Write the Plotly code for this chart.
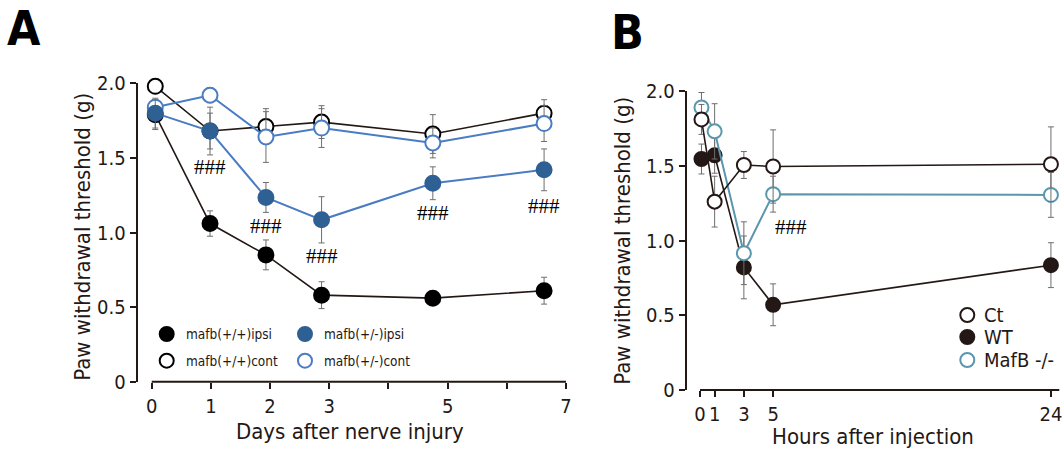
import plotly.graph_objects as go

# ---------------- data: panel A ----------------
days = [0.06, 0.985, 1.93, 2.87, 4.75, 6.63]
wt_ipsi = [1.79, 1.06, 0.85, 0.58, 0.56, 0.61]
wt_ipsi_err = [0.10, 0.085, 0.10, 0.09, 0.03, 0.09]
wt_cont = [1.98, 1.68, 1.71, 1.74, 1.66, 1.80]
wt_cont_err = [0.05, 0.16, 0.12, 0.11, 0.13, 0.09]
het_cont = [1.84, 1.92, 1.64, 1.70, 1.60, 1.73]
het_cont_err = [0.05, 0.05, 0.17, 0.13, 0.10, 0.12]
het_ipsi = [1.80, 1.68, 1.235, 1.085, 1.33, 1.42]
het_ipsi_err = [0.10, 0.12, 0.10, 0.155, 0.11, 0.14]
hash_days_a = [0.985, 1.93, 2.87, 4.75, 6.63]
hash_y_a = [1.44, 1.045, 0.842, 1.133, 1.178]
x_ticks_a = [0, 1, 2, 3, 4, 5, 6, 7]
x_ticktext_a = ["0", "1", "2", "3", "", "5", "", "7"]
legend_a_names = ["mafb(+/+)ipsi", "mafb(+/+)cont", "mafb(+/-)ipsi", "mafb(+/-)cont"]

# ---------------- data: panel B ----------------
hours = [0.1, 1, 3, 5, 24]
ct = [1.81, 1.26, 1.505, 1.495, 1.51]
ct_err = [0.10, 0.17, 0.09, 0.245, 0.25]
wt = [1.545, 1.57, 0.82, 0.57, 0.835]
wt_err = [0.10, 0.12, 0.21, 0.14, 0.15]
mafb = [1.89, 1.73, 0.915, 1.31, 1.305]
mafb_err = [0.10, 0.185, 0.21, 0.12, 0.15]
hash_hours_b = [6.2]
hash_y_b = [1.092]
x_ticks_b = [0, 1, 3, 5, 24]
legend_b_names = ["Ct", "WT", "MafB -/-"]

y_ticks = [0, 0.5, 1.0, 1.5, 2.0]
y_ticktext = ["0", "0.5", "1.0", "1.5", "2.0"]

# ---------------- style ----------------
W, H = 1064, 452
FONT = "Liberation Sans Narrow, Arial Narrow, DejaVu Sans Condensed, sans-serif"
INK = "#231815"
BLUE_LINE = "#4a7cc4"
BLUE_FILL = "#2f6093"
TEAL = "#5a96ac"
ERR = "#6e6e6e"


def px_x(p):
    return p / W


def px_y(p):
    return 1 - p / H


fig = go.Figure()


def add_series(x, y, err, xa, ya, line_color, fill, edge, size, lw, name):
    fig.add_trace(go.Scatter(
        x=x, y=y, xaxis=xa, yaxis=ya, mode="lines+markers", name=name,
        showlegend=False, cliponaxis=False,
        line=dict(color=line_color, width=lw),
        marker=dict(size=size, color=fill, line=dict(color=edge, width=2)),
        error_y=dict(type="data", array=err, color=ERR, thickness=1, width=3),
    ))


add_series(days, wt_ipsi, wt_ipsi_err, "x", "y", INK, "#000000", "#000000", 15, 1.6, legend_a_names[0])
add_series(days, wt_cont, wt_cont_err, "x", "y", INK, "#ffffff", "#000000", 15, 1.6, legend_a_names[1])
add_series(days, het_cont, het_cont_err, "x", "y", BLUE_LINE, "#ffffff", BLUE_LINE, 15, 2, legend_a_names[3])
add_series(days, het_ipsi, het_ipsi_err, "x", "y", BLUE_LINE, BLUE_FILL, BLUE_FILL, 15, 2, legend_a_names[2])

add_series(hours, wt, wt_err, "x2", "y2", INK, INK, INK, 14, 1.6, legend_b_names[1])
add_series(hours, mafb, mafb_err, "x2", "y2", TEAL, "#ffffff", TEAL, 14, 2, legend_b_names[2])
add_series(hours, ct, ct_err, "x2", "y2", INK, "#ffffff", INK, 14, 1.6, legend_b_names[0])

# ---- hand-placed legend keys (full-page axis in pixel units) ----
leg_a_x = [166.7, 166.7, 305, 305]
leg_a_y = [334, 360.7, 334, 360.7]
leg_a_fill = ["#000000", "#ffffff", BLUE_FILL, "#ffffff"]
leg_a_edge = ["#000000", "#000000", BLUE_FILL, BLUE_LINE]
fig.add_trace(go.Scatter(x=leg_a_x, y=leg_a_y, xaxis="x3", yaxis="y3", mode="markers", showlegend=False,
                         hoverinfo="skip", cliponaxis=False,
                         marker=dict(size=14, color=leg_a_fill, line=dict(color=leg_a_edge, width=2))))
leg_b_x = [967.3, 967.3, 967.3]
leg_b_y = [315, 337, 360]
leg_b_fill = ["#ffffff", INK, "#ffffff"]
leg_b_edge = [INK, INK, TEAL]
fig.add_trace(go.Scatter(x=leg_b_x, y=leg_b_y, xaxis="x3", yaxis="y3", mode="markers", showlegend=False,
                         hoverinfo="skip", cliponaxis=False,
                         marker=dict(size=14, color=leg_b_fill, line=dict(color=leg_b_edge, width=2))))

annotations = []
for xh, yh in zip(hash_days_a, hash_y_a):
    annotations.append(dict(x=xh, y=yh, xref="x", yref="y", text="###", showarrow=False,
                            font=dict(family="Liberation Serif, serif", size=21, color="#000")))
for xh, yh in zip(hash_hours_b, hash_y_b):
    annotations.append(dict(x=xh, y=yh, xref="x2", yref="y2", text="###", showarrow=False,
                            font=dict(family="Liberation Serif, serif", size=21, color="#000")))

for name, mx, my in zip(legend_a_names, leg_a_x, leg_a_y):
    annotations.append(dict(x=px_x(mx + 17), y=px_y(my), xref="paper", yref="paper", text=name,
                            showarrow=False, xanchor="left", yanchor="middle",
                            font=dict(family=FONT, size=13.5, color=INK)))
for name, mx, my in zip(legend_b_names, leg_b_x, leg_b_y):
    annotations.append(dict(x=px_x(mx + 15), y=px_y(my), xref="paper", yref="paper", text=name,
                            showarrow=False, xanchor="left", yanchor="middle",
                            font=dict(family=FONT, size=20, color=INK)))

title_font = dict(family=FONT, size=22, color=INK)
annotations += [
    dict(x=px_x(81.7), y=px_y(237), xref="paper", yref="paper", text="Paw withdrawal threshold (g)",
         textangle=-90, showarrow=False, font=title_font, xanchor="center", yanchor="middle"),
    dict(x=px_x(350), y=px_y(431.5), xref="paper", yref="paper", text="Days after nerve injury",
         showarrow=False, font=title_font, xanchor="center", yanchor="middle"),
    dict(x=px_x(621.7), y=px_y(241), xref="paper", yref="paper", text="Paw withdrawal threshold (g)",
         textangle=-90, showarrow=False, font=title_font, xanchor="center", yanchor="middle"),
    dict(x=px_x(872.5), y=px_y(436.5), xref="paper", yref="paper", text="Hours after injection",
         showarrow=False, font=title_font, xanchor="center", yanchor="middle"),
    dict(x=px_x(23.5), y=px_y(28), xref="paper", yref="paper", text="<b>A</b>",
         showarrow=False, font=dict(family=FONT, size=48, color="#000"), xanchor="center", yanchor="middle"),
    dict(x=px_x(627), y=px_y(32), xref="paper", yref="paper", text="<b>B</b>",
         showarrow=False, font=dict(family=FONT, size=48, color="#000"), xanchor="center", yanchor="middle"),
]

tick_font = dict(family=FONT, size=20, color=INK)
common_y = dict(range=[0, 2.0], tickvals=y_ticks, ticktext=y_ticktext, ticks="outside", ticklen=6,
                tickwidth=1.5, tickcolor=INK, showline=True, linecolor=INK, linewidth=2,
                showgrid=False, zeroline=False, tickfont=tick_font)
common_x = dict(ticks="outside", ticklen=6, tickwidth=1.5, tickcolor=INK, showline=False,
                showgrid=False, zeroline=False, tickfont=tick_font)

fig.update_layout(
    width=W, height=H, margin=dict(l=0, r=0, t=0, b=0, pad=0, autoexpand=False),
    paper_bgcolor="white", plot_bgcolor="rgba(0,0,0,0)", showlegend=False,
    xaxis=dict(domain=[px_x(137.7), px_x(568)], range=[-0.237, 7.034], tickvals=x_ticks_a,
               ticktext=x_ticktext_a, anchor="y", **common_x),
    yaxis=dict(domain=[px_y(381.7), px_y(83.3)], anchor="x", **common_y),
    xaxis2=dict(domain=[px_x(686.7), px_x(1060)], range=[-0.91, 24.62], tickvals=x_ticks_b,
                ticktext=[str(v) for v in x_ticks_b], anchor="y2", **common_x),
    yaxis2=dict(domain=[px_y(390), px_y(91)], anchor="x2", **common_y),
    xaxis3=dict(domain=[0, 1], range=[0, W], visible=False, anchor="y3", fixedrange=True),
    yaxis3=dict(domain=[0, 1], range=[H, 0], visible=False, anchor="x3", fixedrange=True),
    annotations=annotations,
    shapes=[
        dict(type="line", xref="x", yref="y domain", x0=x_ticks_a[0], x1=x_ticks_a[-1], y0=0, y1=0,
             line=dict(color=INK, width=2)),
        dict(type="line", xref="x2", yref="y2 domain", x0=x_ticks_b[0], x1=24.57, y0=0, y1=0,
             line=dict(color=INK, width=2)),
    ],
)

fig.write_html("out.html", post_script="document.body.style.margin='0px';",
               config={"displayModeBar": False})
